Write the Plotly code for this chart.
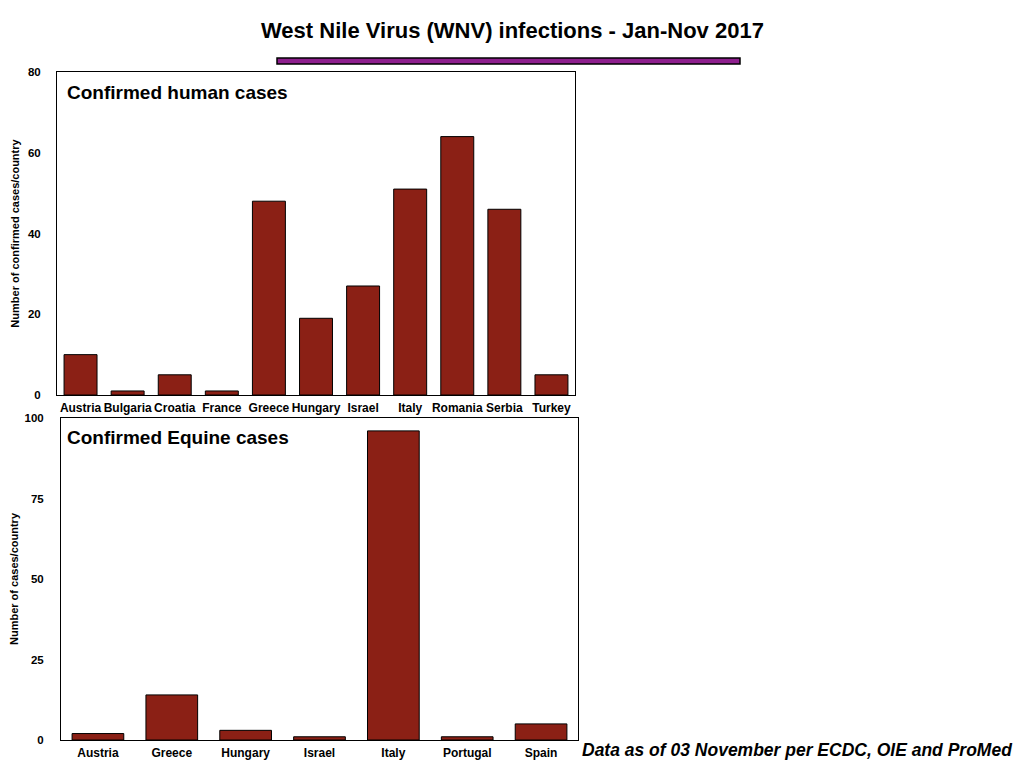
import plotly.graph_objects as go

# Human cases per country
human_countries = ["Austria", "Bulgaria", "Croatia", "France", "Greece", "Hungary",
                   "Israel", "Italy", "Romania", "Serbia", "Turkey"]
human_cases = [10, 1, 5, 1, 48, 19, 27, 51, 64, 46, 5]

# Equine cases per country
equine_countries = ["Austria", "Greece", "Hungary", "Israel", "Italy", "Portugal", "Spain"]
equine_cases = [2, 14, 3, 1, 96, 1, 5]

# page has an 8px body margin, keep the figure inside the window
OFF = 8
W, H = 1024 - 2 * OFF, 768 - 2 * OFF
bar_color = "#8B2015"
font = "Liberation Sans, Arial, sans-serif"


def px_x(v):
    return (v - OFF) / W


def px_y(v):
    return 1 - (v - OFF) / H


fig = go.Figure()

fig.add_trace(go.Bar(x=human_countries, y=human_cases, xaxis="x", yaxis="y",
                     marker=dict(color=bar_color, line=dict(color="black", width=1)),
                     showlegend=False))
fig.add_trace(go.Bar(x=equine_countries, y=equine_cases, xaxis="x2", yaxis="y2",
                     marker=dict(color=bar_color, line=dict(color="black", width=1)),
                     showlegend=False))

axis_common = dict(showline=True, mirror=True, linecolor="black", linewidth=1,
                   showgrid=False, zeroline=False, ticks="", automargin=False)
xtick_font = dict(family=font, size=12, color="black", weight="bold")
ytick_font = dict(family=font, size=11.5, color="black", weight="bold")

fig.update_layout(
    width=W, height=H,
    margin=dict(l=0, r=0, t=0, b=0),
    plot_bgcolor="white", paper_bgcolor="white",
    bargap=0.3,
    font=dict(family=font, color="black"),
    xaxis=dict(domain=[px_x(57), px_x(575)], anchor="y", tickfont=xtick_font,
               ticklabelstandoff=2, **axis_common),
    yaxis=dict(domain=[px_y(395), px_y(72)], anchor="x", range=[0, 80],
               tickvals=[0, 20, 40, 60, 80], ticklabelstandoff=13, tickfont=ytick_font,
               title=dict(text="<b>Number of confirmed cases/country</b>",
                          font=dict(family=font, size=11), standoff=6),
               **axis_common),
    xaxis2=dict(domain=[px_x(61), px_x(578)], anchor="y2", tickfont=xtick_font,
                ticklabelstandoff=2, **axis_common),
    yaxis2=dict(domain=[px_y(740), px_y(418)], anchor="x2", range=[0, 100],
                tickvals=[0, 25, 50, 75, 100], ticklabelstandoff=14, tickfont=ytick_font,
                title=dict(text="<b>Number of cases/country</b>",
                           font=dict(family=font, size=11), standoff=4),
                **axis_common),
)

fig.add_annotation(text="<b>West Nile Virus (WNV) infections - Jan-Nov 2017</b>",
                   x=px_x(512), y=px_y(30), xref="paper", yref="paper",
                   xanchor="center", yanchor="middle", showarrow=False,
                   font=dict(family=font, size=22, color="black"))
fig.add_annotation(text="<b>Confirmed human cases</b>",
                   x=px_x(65), y=px_y(93), xref="paper", yref="paper",
                   xanchor="left", yanchor="middle", showarrow=False,
                   font=dict(family=font, size=19, color="black"))
fig.add_annotation(text="<b>Confirmed Equine cases</b>",
                   x=px_x(65), y=px_y(437), xref="paper", yref="paper",
                   xanchor="left", yanchor="middle", showarrow=False,
                   font=dict(family=font, size=19, color="black"))
fig.add_annotation(text="<b><i>Data as of 03 November per ECDC, OIE and ProMed</i></b>",
                   x=px_x(580), y=px_y(750), xref="paper", yref="paper",
                   xanchor="left", yanchor="middle", showarrow=False,
                   font=dict(family=font, size=17.5, color="black"))

# purple divider under the title
fig.add_shape(type="rect", xref="paper", yref="paper",
              x0=px_x(277), x1=px_x(740), y0=px_y(64), y1=px_y(58),
              fillcolor="#8E1F8E", line=dict(color="black", width=1.5))

fig.write_html("out.html")
